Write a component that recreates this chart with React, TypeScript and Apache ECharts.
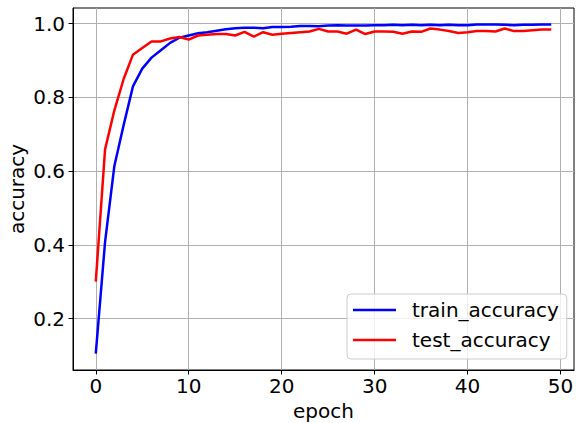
import React, { useEffect, useRef } from "react";
import * as echarts from "echarts";

const epochs: number[] = Array.from({ length: 50 }, (_, i) => i);
const trainAccuracy: number[] = [
  0.105, 0.408, 0.614, 0.725, 0.83, 0.878, 0.908, 0.928, 0.948, 0.962,
  0.968, 0.974, 0.977, 0.981, 0.985, 0.988, 0.989, 0.989, 0.988, 0.991,
  0.991, 0.992, 0.994, 0.994, 0.993, 0.995, 0.996, 0.995, 0.995, 0.995,
  0.996, 0.996, 0.997, 0.996, 0.997, 0.996, 0.997, 0.996, 0.997, 0.996,
  0.996, 0.998, 0.998, 0.998, 0.997, 0.996, 0.997, 0.997, 0.998, 0.998,
];
const testAccuracy: number[] = [
  0.3, 0.659, 0.765, 0.85, 0.916, 0.934, 0.952, 0.952, 0.96, 0.964,
  0.957, 0.968, 0.97, 0.972, 0.972, 0.968, 0.978, 0.965, 0.977, 0.97,
  0.973, 0.975, 0.977, 0.979, 0.986, 0.979, 0.979, 0.973, 0.984, 0.972,
  0.979, 0.979, 0.978, 0.973, 0.979, 0.978, 0.987, 0.984, 0.98, 0.975,
  0.977, 0.98, 0.98, 0.979, 0.987, 0.98, 0.98, 0.982, 0.984, 0.984,
];
const xTicks: number[] = [0, 10, 20, 30, 40, 50];
const yTicks: number[] = [0.2, 0.4, 0.6, 0.8, 1.0];

const FONT = "DejaVu Sans";
const FS = 20;

export default function App() {
  const ref = useRef<HTMLDivElement>(null);
  useEffect(() => {
    if (!ref.current) return;
    const chart = echarts.init(ref.current, undefined, { renderer: "svg" });
    const xMin = -2.45;
    const xMax = 51.45;
    const allY = trainAccuracy.concat(testAccuracy);
    const yLo = Math.min(...allY);
    const yHi = Math.max(...allY);
    const yPad = (yHi - yLo) * 0.05;
    const axisCommon = {
      axisLine: { show: true, onZero: false, lineStyle: { color: "#000", width: 1 } },
      axisTick: { show: true, length: 4.5, lineStyle: { color: "#000", width: 1 } },
      splitLine: { show: true, lineStyle: { color: "#b0b0b0", width: 1 } },
      nameTextStyle: { fontFamily: FONT, fontSize: FS, color: "#000" },
    };
    chart.setOption({
      animation: false,
      backgroundColor: "#fff",
      grid: {
        left: 73,
        right: 2,
        top: 8,
        bottom: 53,
        containLabel: false,
        outerBoundsMode: "none",
        show: true,
        borderColor: "#000",
        borderWidth: 1,
        backgroundColor: "#fff",
      },
      xAxis: {
        type: "value",
        min: xMin,
        max: xMax,
        name: "epoch",
        nameLocation: "middle",
        nameGap: 30,
        ...axisCommon,
        axisTick: { ...axisCommon.axisTick, customValues: xTicks },
        axisLabel: {
          customValues: xTicks,
          fontFamily: FONT,
          fontSize: FS,
          color: "#000",
          margin: 6,
          hideOverlap: false,
          formatter: (v: number) => String(v),
        },
      },
      yAxis: {
        type: "value",
        min: yLo - yPad,
        max: yHi + yPad,
        name: "accuracy",
        nameLocation: "middle",
        nameGap: 46,
        nameMoveOverlap: false,
        ...axisCommon,
        axisTick: { ...axisCommon.axisTick, customValues: yTicks },
        axisLabel: {
          customValues: yTicks,
          fontFamily: FONT,
          fontSize: FS,
          color: "#000",
          margin: 8,
          formatter: (v: number) => v.toFixed(1),
        },
      },
      legend: {
        orient: "vertical",
        left: 347,
        top: 294,
        icon: "rect",
        itemWidth: 43,
        itemHeight: 2.5,
        itemGap: 10,
        padding: [6, 8, 9, 6],
        backgroundColor: "rgba(255,255,255,0.8)",
        borderColor: "#cccccc",
        borderWidth: 1,
        borderRadius: 4,
        textStyle: {
          fontFamily: FONT,
          fontSize: FS,
          color: "#000",
          lineHeight: 20,
          padding: [0, 0, 0, 11],
        },
        data: ["train_accuracy", "test_accuracy"],
      },
      series: [
        {
          name: "train_accuracy",
          type: "line",
          data: epochs.map((e, i) => [e, trainAccuracy[i]]),
          showSymbol: false,
          symbol: "none",
          lineStyle: { color: "#0000ff", width: 2.5 },
          itemStyle: { color: "#0000ff" },
        },
        {
          name: "test_accuracy",
          type: "line",
          data: epochs.map((e, i) => [e, testAccuracy[i]]),
          showSymbol: false,
          symbol: "none",
          lineStyle: { color: "#ff0000", width: 2.5 },
          itemStyle: { color: "#ff0000" },
        },
      ],
    });
    return () => chart.dispose();
  }, []);
  return (
    <div
      ref={ref}
      style={{ position: "fixed", left: 0, top: 0, width: 576, height: 423 }}
    />
  );
}
